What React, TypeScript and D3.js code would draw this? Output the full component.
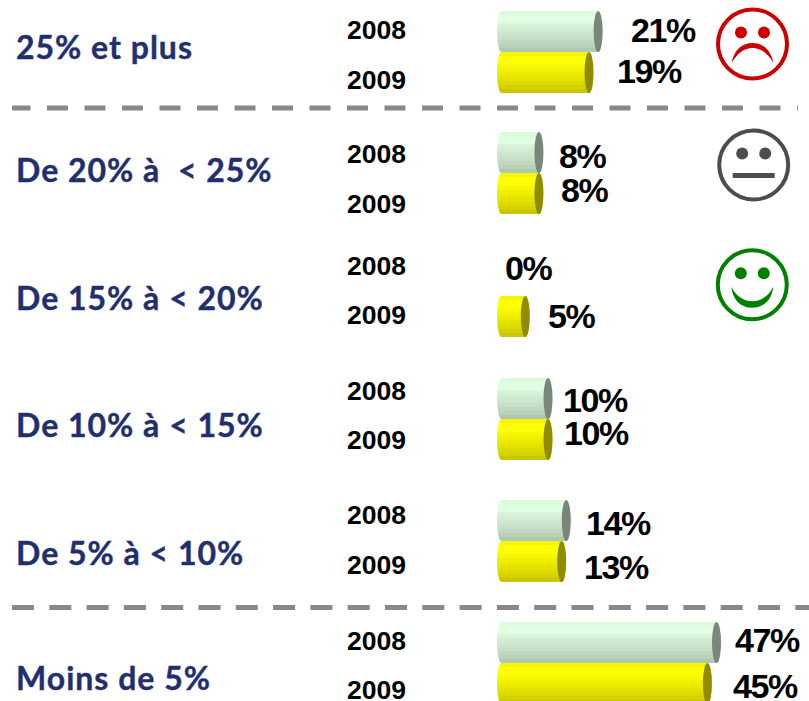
import React from "react";
import * as d3 from "d3";

const categories = ["25% et plus", "De 20% à  < 25%", "De 15% à < 20%", "De 10% à < 15%", "De 5% à < 10%", "Moins de 5%"];
const years = ["2008", "2009"];
const values2008 = [21, 8, 0, 10, 14, 47];
const values2009 = [19, 8, 5, 10, 13, 45];
const groupTops = [11, 132, 255, 378, 500, 622];
const catLabelY = [59, 182, 310, 437, 565, 690];
const yearY2008 = [39, 163, 275, 400, 524, 650];
const yearY2009 = [89, 213, 324, 449, 574, 699];
const valY2008 = [42, 168, 280, 412, 535, 652];
const valY2009 = [83, 202, 328, 445, 579, 698];
const valX2008 = [631, 559, 505, 563, 586, 735];
const valX2009 = [617, 561, 548, 564, 584, 733];

const greenSteps = ["#dcfadc", "#e0ffe0", "#e0ffe0", "#d8f4d8", "#d2ecd2", "#cde7cd", "#c8e0c8", "#c1d9c1", "#bad1ba", "#b0c7b0"];
const yellowSteps = ["#f6f600", "#ffff00", "#ffff00", "#f8f800", "#f2f000", "#ecea00", "#e4e200", "#dcda00", "#d4d200", "#cac600"];

const W = 809, H = 701;
const x = d3.scaleLinear().domain([0, 47]).range([502.5, 716.5]);
const BAR_H = 41;

function Bar({ id, top, v, steps, cap }: { id: string; top: number; v: number; steps: string[]; cap: string }) {
  if (v === 0) return null;
  const x0 = 497;
  const xe = x(v);
  const rx = 4.5;
  const ry = BAR_H / 2;
  const body = `M${x0 + rx},${top} L${xe},${top} A${rx},${ry} 0 0 1 ${xe},${top + BAR_H} L${x0 + rx},${top + BAR_H} A${rx},${ry} 0 0 1 ${x0 + rx},${top} Z`;
  const band = d3.scaleBand<number>().domain(d3.range(steps.length)).range([top, top + BAR_H]);
  return (
    <g>
      <clipPath id={id}><path d={body} /></clipPath>
      <g clipPath={`url(#${id})`}>
        {steps.map((c, i) => (
          <rect key={i} x={x0} y={band(i)!} width={xe - x0 + rx} height={band.bandwidth() + 0.5} fill={c} />
        ))}
      </g>
      <ellipse cx={xe} cy={top + ry} rx={rx} ry={ry} fill={cap} />
    </g>
  );
}

function Face({ cx, cy, color, kind }: { cx: number; cy: number; color: string; kind: "sad" | "neutral" | "happy" }) {
  const r = 34.5;
  return (
    <g>
      <circle cx={cx} cy={cy} r={r} fill="none" stroke={color} strokeWidth={4} />
      <circle cx={cx - 11.5} cy={cy - 11.5} r={6} fill={color} />
      <circle cx={cx + 11.5} cy={cy - 11.5} r={6} fill={color} />
      {kind === "sad" && (
        <path d={`M${cx - 21},${cy + 19} C${cx - 18},${cy + 5} ${cx - 10},${cy - 1} ${cx},${cy - 1} C${cx + 10},${cy - 1} ${cx + 18},${cy + 5} ${cx + 21},${cy + 19} C${cx + 15},${cy + 9} ${cx + 8},${cy + 4} ${cx},${cy + 4} C${cx - 8},${cy + 4} ${cx - 15},${cy + 9} ${cx - 21},${cy + 19} Z`} fill={color} />
      )}
      {kind === "neutral" && <rect x={cx - 21} y={cy + 8} width={42} height={5} fill={color} />}
      {kind === "happy" && (
        <path d={`M${cx - 21},${cy + 2} C${cx - 19},${cy + 18} ${cx - 9},${cy + 23} ${cx},${cy + 23} C${cx + 9},${cy + 23} ${cx + 19},${cy + 18} ${cx + 21},${cy + 2} C${cx + 16},${cy + 12} ${cx + 8},${cy + 16.5} ${cx},${cy + 16.5} C${cx - 8},${cy + 16.5} ${cx - 16},${cy + 12} ${cx - 21},${cy + 2} Z`} fill={color} />
      )}
    </g>
  );
}

export default function App() {
  return (
    <svg width={W} height={H} viewBox={`0 0 ${W} ${H}`} style={{ position: "absolute", left: 0, top: 0, background: "#fff" }}>
      <line x1={12} x2={798} y1={108} y2={108} stroke="#888" strokeWidth={5} strokeDasharray="21 16.5" strokeDashoffset={2.5} />
      <line x1={12} x2={809} y1={607.5} y2={607.5} stroke="#888" strokeWidth={5} strokeDasharray="22 15.3" />
      {categories.map((c, i) => (
        <g key={c}>
          <text x={16} y={catLabelY[i]} fontFamily="Lato, 'Open Sans', sans-serif" fontWeight={700} fontSize={32} letterSpacing={1} stroke="#1f2f6f" strokeWidth={0.4} fill="#1f2f6f" style={{ whiteSpace: "pre" }}>{c}</text>
          <text x={347} y={yearY2008[i]} fontFamily="'Liberation Sans', Arial" fontWeight={700} fontSize={26.5} fill="#000">{years[0]}</text>
          <text x={347} y={yearY2009[i]} fontFamily="'Liberation Sans', Arial" fontWeight={700} fontSize={26.5} fill="#000">{years[1]}</text>
          <Bar id={`g${i}`} top={groupTops[i]} v={values2008[i]} steps={greenSteps} cap="#78877a" />
          <Bar id={`y${i}`} top={groupTops[i] + BAR_H} v={values2009[i]} steps={yellowSteps} cap="#8f8c00" />
          <text x={valX2008[i]} y={valY2008[i]} fontFamily="'Liberation Sans', Arial" fontWeight={700} fontSize={34} letterSpacing={-1.4} fill="#000">{values2008[i]}%</text>
          <text x={valX2009[i]} y={valY2009[i]} fontFamily="'Liberation Sans', Arial" fontWeight={700} fontSize={34} letterSpacing={-1.4} fill="#000">{values2009[i]}%</text>
        </g>
      ))}
      <Face cx={752.5} cy={44} color="#cc0000" kind="sad" />
      <Face cx={753.7} cy={165} color="#4d4d4d" kind="neutral" />
      <Face cx={752.3} cy={284.7} color="#008000" kind="happy" />
    </svg>
  );
}
